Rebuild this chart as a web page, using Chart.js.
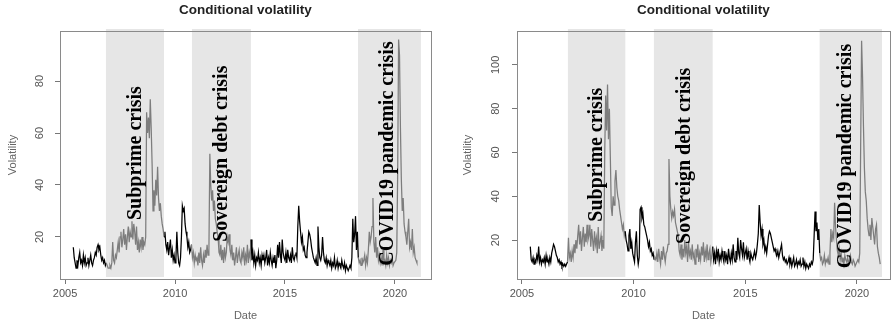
<!DOCTYPE html>
<html><head><meta charset="utf-8">
<script src="https://cdn.jsdelivr.net/npm/chart.js@4.4.1/dist/chart.umd.min.js"></script>
<style>
html,body{margin:0;padding:0;background:#fff;overflow:hidden;width:891px;height:324px;}
#wrap{position:relative;width:891px;height:324px;overflow:hidden;background:#fff;}
.panel{position:absolute;top:0;height:324px;}
#p1{left:0;width:445px;} #p2{left:446px;width:447px;}
canvas{display:block;}
</style></head><body>
<div id="wrap">
 <div class="panel" id="p1"><canvas id="c1" width="445" height="324"></canvas></div>
 <div class="panel" id="p2"><canvas id="c2" width="447" height="324"></canvas></div>
</div>
<script>
// time grid: half-month steps starting mid-May 2005
const startYear = 2005.375;
const stepsPerYear = 24;

// Conditional volatility, left panel (2005.375 .. 2021.0)
const volatilityLeft = [
 16,12,10,8,11,9,12,14,10,11,9,13,10,12,9,
 10,12,9,11,13,10,9,11,12,14,13,16,17,15,16,13,11,12,10,11,9,10,9,8,
 8,9,8,10,18,11,10,13,12,15,18,14,20,22,16,19,23,17,21,15,20,24,18,22,
 20,26,19,25,22,17,24,15,18,14,19,16,20,15,18,17,20,68,60,66,58,73,62,48,
 30,38,32,42,36,47,35,30,33,28,25,23,20,22,17,15,18,13,16,19,12,15,11,13,
 10,12,22,14,10,9,12,20,32,30,31,25,22,20,16,18,14,15,17,12,14,10,13,11,
 12,9,14,10,16,11,9,13,10,15,12,17,13,15,52,40,34,38,30,34,27,25,22,20,
 14,13,17,11,15,10,16,12,14,20,18,21,15,13,17,11,14,9,12,16,10,13,15,11,
 10,14,12,16,9,13,11,17,10,14,12,19,11,14,10,13,9,12,11,14,10,12,9,13,
 11,13,10,12,15,9,12,10,14,11,9,12,10,13,8,11,17,12,18,13,10,19,14,12,
 11,14,10,15,12,11,13,10,16,12,11,13,14,12,24,32,26,22,18,20,15,16,13,12,
 14,18,22,21,19,16,14,12,11,10,12,9,24,16,12,11,13,20,14,11,10,12,9,11,
 10,9,11,8,10,9,12,8,9,11,8,10,9,8,11,9,8,10,7,9,8,7,8,9,
 8,12,27,18,21,28,15,22,12,10,11,9,12,10,11,13,9,12,10,15,22,18,20,24,
 35,18,14,20,12,16,11,13,10,12,9,15,10,11,9,13,10,12,9,11,10,12,9,10,
 10,11,14,45,96,90,62,42,30,35,25,22,20,17,22,27,16,18,15,23,14,16,12,11,
 10
];

// Conditional volatility, right panel (2005.375 .. 2021.04)
const volatilityRight = [
 17,11,10,12,9,11,10,13,11,17,10,12,9,11,10,
 12,9,13,10,11,9,12,10,14,16,18,17,15,13,12,10,11,9,10,8,9,8,9,8,
 9,10,21,12,14,10,15,12,18,14,20,16,22,27,18,24,15,21,26,17,23,19,27,20,
 22,27,17,25,20,15,24,18,21,14,26,16,19,22,15,20,16,60,86,70,91,66,80,58,
 35,31,40,36,47,52,44,40,38,34,31,28,25,27,22,24,20,18,15,22,25,16,19,14,
 12,10,19,24,13,9,12,34,35,30,32,27,26,24,22,20,17,19,15,16,13,14,11,12,
 11,14,10,16,12,9,15,11,17,13,10,14,15,18,57,40,34,30,33,31,34,28,26,24,
 22,15,13,18,11,16,12,20,14,17,10,19,13,15,11,18,12,14,9,16,12,18,10,14,
 11,17,13,19,10,15,12,18,11,14,16,10,13,17,11,14,9,15,12,16,10,13,11,15,
 12,10,15,11,13,9,16,12,10,14,11,18,12,10,15,11,21,14,12,20,16,13,19,12,
 14,16,11,15,12,10,14,12,11,13,15,12,14,18,23,36,28,22,25,18,20,15,17,14,
 18,22,24,23,21,19,17,15,16,14,13,15,12,14,16,18,13,11,12,10,11,9,10,12,
 9,11,8,10,12,8,9,11,8,10,9,11,8,9,12,8,10,7,9,8,7,9,8,10,
 9,11,22,33,24,28,20,25,14,11,12,9,10,13,9,11,10,12,9,14,25,19,23,21,
 37,26,20,15,13,16,11,14,10,12,9,13,11,10,12,9,11,13,10,9,11,10,8,9,
 9,11,10,14,63,111,95,72,53,42,38,30,25,22,27,20,30,26,22,18,25,27,17,14,
 12,9
];

const xTickYears = [2005, 2010, 2015, 2020];
const yTicksLeft = [20, 40, 60, 80];
const yTicksRight = [20, 40, 60, 80, 100];

const crisisNames = ['Subprime crisis', 'Sovereign debt crisis', 'COVID19 pandemic crisis'];
const crisisStartLeft = [2006.86, 2010.77, 2018.32];
const crisisEndLeft = [2009.50, 2013.45, 2021.18];
const crisisStartRight = [2007.06, 2010.91, 2018.33];
const crisisEndRight = [2009.63, 2013.54, 2021.12];
// label anchors (year of text column centre, value at text start)
const labelYearLeft = [2008.23, 2012.14, 2019.68];
const labelValueLeft = [26.5, 18.1, 8.9];
const labelYearRight = [2008.35, 2012.31, 2019.49];
const labelValueRight = [28.4, 18.2, 7.1];

const SANS = '"Liberation Sans", Arial, sans-serif';
const SERIF = '"Liberation Serif", "Times New Roman", serif';

function inRange(v, starts, ends) {
  for (let i = 0; i < starts.length; i++) if (v >= starts[i] && v <= ends[i]) return true;
  return false;
}
function toPoints(vals) { return vals.map((v, i) => ({x: startYear + i / stepsPerYear, y: v})); }

const crisisPlugin = {
  id: 'crisis',
  beforeDatasetsDraw(chart, args, o) {
    const {ctx, chartArea: a, scales: {x}} = chart;
    ctx.save();
    ctx.fillStyle = '#e6e6e6';
    o.starts.forEach((s, i) => {
      const x0 = x.getPixelForValue(s), x1 = x.getPixelForValue(o.ends[i]);
      ctx.fillRect(x0, a.top - 2, x1 - x0, a.bottom - a.top);
    });
    ctx.restore();
  },
  afterDatasetsDraw(chart, args, o) {
    const {ctx, scales: {x, y}} = chart;
    ctx.save();
    ctx.font = 'bold 20px ' + SERIF;
    ctx.fillStyle = '#000';
    ctx.textAlign = 'left';
    ctx.textBaseline = 'alphabetic';
    o.names.forEach((t, i) => {
      const px = x.getPixelForValue(o.labelX[i]), py = y.getPixelForValue(o.labelY[i]);
      ctx.save();
      ctx.translate(px + 5, py);
      ctx.rotate(-Math.PI / 2);
      ctx.fillText(t, 0, 0);
      ctx.restore();
    });
    ctx.restore();
  },
  afterDraw(chart, args, o) {
    const {ctx, chartArea: a} = chart;
    ctx.save();
    ctx.strokeStyle = '#8a8a8a';
    ctx.lineWidth = 1;
    ctx.strokeRect(Math.round(a.left) + 0.5, Math.round(a.top) + 0.5, Math.round(a.right - a.left), Math.round(a.bottom - a.top));
    ctx.font = 'bold 13.5px ' + SANS;
    ctx.fillStyle = '#222';
    ctx.textAlign = 'center';
    ctx.textBaseline = 'middle';
    ctx.fillText('Conditional volatility', (a.left + a.right) / 2, 10.5);
    ctx.restore();
  }
};

function makeChart(id, cfg) {
  return new Chart(document.getElementById(id), {
    type: 'line',
    data: {
      datasets: [{
        data: toPoints(cfg.values),
        borderWidth: 1.25,
        borderColor: '#000',
        pointRadius: 0,
        tension: 0,
        segment: {
          borderColor: c => inRange((c.p0.parsed.x + c.p1.parsed.x) / 2, cfg.starts, cfg.ends) ? '#7d7d7d' : '#000'
        }
      }]
    },
    options: {
      responsive: false,
      animation: false,
      devicePixelRatio: 1,
      layout: {padding: {top: 31, right: cfg.padRight, left: 0, bottom: 0}},
      plugins: {
        legend: {display: false},
        tooltip: {enabled: false},
        title: {display: false},
        crisis: {starts: cfg.starts, ends: cfg.ends, names: crisisNames, labelX: cfg.labelX, labelY: cfg.labelY}
      },
      scales: {
        x: {
          type: 'linear', min: cfg.xMin, max: cfg.xMax,
          afterBuildTicks: s => { s.ticks = xTickYears.map(v => ({value: v})); },
          afterFit: s => { s.height = 45; },
          grid: {drawOnChartArea: false, drawTicks: true, tickLength: 5, color: '#777'},
          border: {display: false},
          ticks: {autoSkip: false, maxRotation: 0, padding: 3, color: '#555', font: {family: SANS, size: 11}, callback: v => String(v)},
          title: {display: true, text: 'Date', color: '#666', font: {family: SANS, size: 11}, padding: {top: 0, bottom: 1.4}}
        },
        y: {
          type: 'linear', min: cfg.yMin, max: cfg.yMax,
          afterBuildTicks: s => { s.ticks = cfg.yTicks.map(v => ({value: v})); },
          afterFit: s => { s.width = cfg.yWidth; },
          grid: {drawOnChartArea: false, drawTicks: true, tickLength: 5, color: '#777'},
          border: {display: false},
          ticks: {autoSkip: false, minRotation: 90, maxRotation: 90, crossAlign: 'center', padding: cfg.yTickPad, color: '#555', font: {family: SANS, size: 11}, callback: v => String(v)},
          title: {display: true, text: 'Volatility', color: '#666', font: {family: SANS, size: 11}, padding: {top: cfg.yTitlePad, bottom: 0}}
        }
      }
    },
    plugins: [crisisPlugin]
  });
}

makeChart('c1', {
  values: volatilityLeft, starts: crisisStartLeft, ends: crisisEndLeft,
  labelX: labelYearLeft, labelY: labelValueLeft,
  xMin: 2004.77, xMax: 2021.64, yMin: 3.8, yMax: 99.3, yTicks: yTicksLeft,
  yWidth: 60, padRight: 14, yTickPad: 8.9, yTitlePad: 6.4
});
makeChart('c2', {
  values: volatilityRight, starts: crisisStartRight, ends: crisisEndRight,
  labelX: labelYearRight, labelY: labelValueRight,
  xMin: 2004.78, xMax: 2021.48, yMin: 2.2, yMax: 115.5, yTicks: yTicksRight,
  yWidth: 71, padRight: 3, yTickPad: 6.8, yTitlePad: 15.1
});
</script>
</body></html>
